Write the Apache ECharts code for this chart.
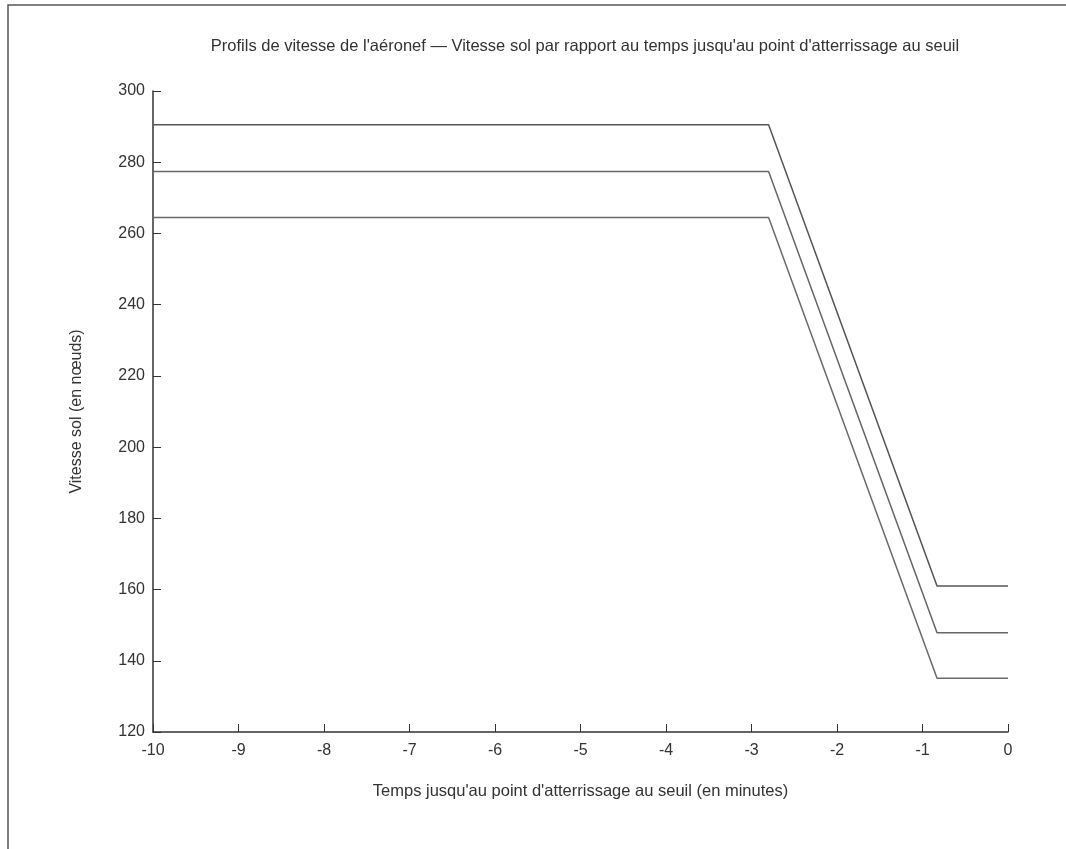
<!DOCTYPE html>
<html>
<head>
<meta charset="utf-8">
<script src="https://cdn.jsdelivr.net/npm/echarts@6/dist/echarts.min.js"></script>
<style>
html,body{margin:0;padding:0;background:#fff;}
#chart{width:1066px;height:849px;}
</style>
</head>
<body>
<div id="chart"></div>
<script>
const timePoints = [-10, -2.8, -0.83, 0];
const speedHigh = [290.5, 290.5, 161, 161];
const speedMid = [277.4, 277.4, 147.9, 147.9];
const speedLow = [264.5, 264.5, 135.1, 135.1];
const xTicks = [-10, -9, -8, -7, -6, -5, -4, -3, -2, -1, 0];
const yTicks = [120, 140, 160, 180, 200, 220, 240, 260, 280, 300];

const pair = (arr) => timePoints.map((t, i) => [t, arr[i]]);
const font = 'Liberation Sans, Arial, sans-serif';

const chart = echarts.init(document.getElementById('chart'));
const lineStyleFor = (c) => ({ color: c, width: 1.5 });
chart.setOption({
  backgroundColor: '#fff',
  animation: false,
  title: {
    text: "Profils de vitesse de l'aéronef — Vitesse sol par rapport au temps jusqu'au point d'atterrissage au seuil",
    left: 580, textAlign: 'center', top: 33,
    textStyle: { fontFamily: font, fontSize: 16.5, fontWeight: 'normal', color: '#333' }
  },
  graphic: [{
    type: 'rect', shape: { x: 8, y: 5, width: 1200, height: 1000 },
    style: { fill: 'none', stroke: '#555', lineWidth: 1.5 }, silent: true
  }],
  grid: { left: 153, right: 58, top: 91, bottom: 117 },
  xAxis: {
    type: 'value', min: xTicks[0], max: xTicks[xTicks.length - 1], interval: 1,
    name: "Temps jusqu'au point d'atterrissage au seuil (en minutes)",
    nameLocation: 'middle', nameGap: 51,
    nameTextStyle: { fontFamily: font, fontSize: 16.5, color: '#333' },
    axisLine: { onZero: false, lineStyle: { color: '#333', width: 1.5 } },
    axisTick: { inside: true, length: 8, lineStyle: { color: '#333' } },
    axisLabel: { fontFamily: font, fontSize: 16, color: '#333', margin: 11 },
    splitLine: { show: false }
  },
  yAxis: {
    type: 'value', min: yTicks[0], max: yTicks[yTicks.length - 1], interval: 20,
    name: 'Vitesse sol (en nœuds)',
    nameLocation: 'middle', nameGap: 68,
    nameTextStyle: { fontFamily: font, fontSize: 16, color: '#333' },
    axisLine: { show: true, onZero: false, lineStyle: { color: '#333', width: 1.5 } },
    axisTick: { show: true, inside: true, length: 8, lineStyle: { color: '#333' } },
    axisLabel: { fontFamily: font, fontSize: 16, color: '#333', margin: 8 },
    splitLine: { show: false }
  },
  series: [
    { type: 'line', data: pair(speedHigh), symbol: 'none', lineStyle: lineStyleFor('#555') },
    { type: 'line', data: pair(speedMid), symbol: 'none', lineStyle: lineStyleFor('#666') },
    { type: 'line', data: pair(speedLow), symbol: 'none', lineStyle: lineStyleFor('#6a6a6a') }
  ]
});
</script>
</body>
</html>
